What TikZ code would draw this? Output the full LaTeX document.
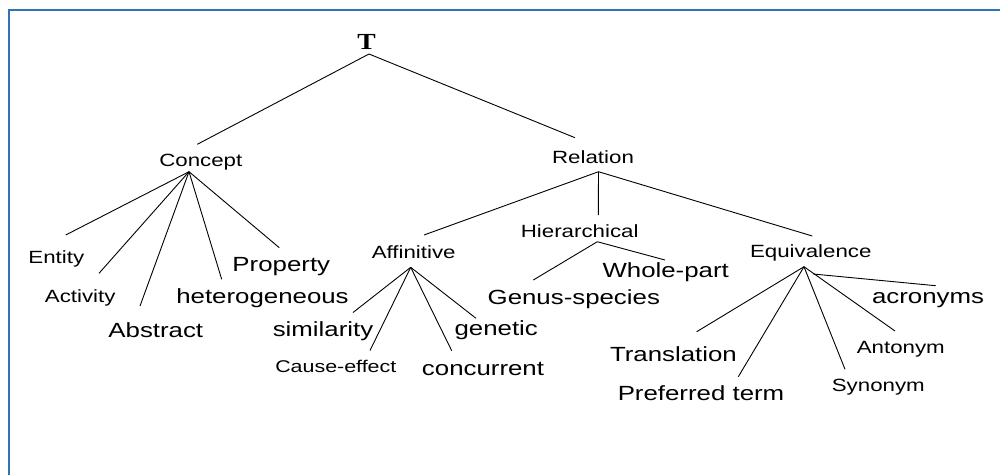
\documentclass[tikz,border=0pt]{standalone}
\usepackage{fontspec}
\setmainfont{Liberation Sans}
\newfontfamily\labfont[FakeStretch=1.26]{Liberation Sans}
\newfontfamily\rootfont[FakeStretch=1.2]{Liberation Serif}
\definecolor{frameblue}{RGB}{46,117,182}
\begin{document}
\begin{tikzpicture}[x=1pt,y=-1pt,
  lab/.style={inner sep=0pt, anchor=base, font=\labfont\fontsize{17.7}{20}\selectfont},
  biglab/.style={inner sep=0pt, anchor=base, font=\labfont\fontsize{20.5}{24}\selectfont},
  rootlab/.style={inner sep=0pt, anchor=base, font=\rootfont\bfseries\fontsize{23}{26}\selectfont},
  edge/.style={line width=0.9pt, black},
  frame/.style={line width=2pt, frameblue}]
\useasboundingbox (0,0) rectangle (1000,475);
\draw[frame] (8.5,475) -- (8.5,9.5) -- (1000,9.5);

% nodes
\node[rootlab] (T) at (366.5,49) {T};
\node[lab] (Concept) at (200.8,166.7) {Concept};
\node[lab] (Relation) at (593,163.3) {Relation};
\node[lab] (Entity) at (56.3,263.3) {Entity};
\node[lab] (Activity) at (80.2,302.3) {Activity};
\node[biglab] (Abstract) at (155.8,337.3) {Abstract};
\node[biglab] (hetero) at (262.5,303.3) {heterogeneous};
\node[biglab] (Property) at (281.3,271.7) {Property};
\node[lab] (Affinitive) at (413.7,258.3) {Affinitive};
\node[lab] (Hierarchical) at (579.7,237.3) {Hierarchical};
\node[lab] (Equivalence) at (810.8,257.3) {Equivalence};
\node[biglab] (similarity) at (323,336.7) {similarity};
\node[lab, font=\labfont\fontsize{17}{20}\selectfont] (Cause) at (335.8,372.3) {Cause-effect};
\node[biglab] (concurrent) at (483,375) {concurrent};
\node[biglab] (genetic) at (496.2,335) {genetic};
\node[biglab] (Genus) at (573.8,304) {Genus-species};
\node[biglab] (Whole) at (665.7,277.7) {Whole-part};
\node[biglab] (acronyms) at (928,303.3) {acronyms};
\node[lab] (Antonym) at (900.8,353.3) {Antonym};
\node[lab] (Synonym) at (878.3,391) {Synonym};
\node[biglab] (Preferred) at (701,400) {Preferred term};
\node[biglab] (Translation) at (673.4,361.7) {Translation};

% hubs and connector ends
\coordinate (T-hub) at (369,54);
\coordinate (Concept-in) at (197.3,144.3);
\coordinate (Relation-in) at (575,137.7);
\coordinate (Concept-hub) at (189,171.7);
\coordinate (Entity-in) at (65.7,235);
\coordinate (Activity-in) at (99,273.3);
\coordinate (Abstract-in) at (140,306);
\coordinate (hetero-in) at (221.7,279.3);
\coordinate (Property-in) at (279.3,247.7);
\coordinate (Relation-hub) at (598.5,171.7);
\coordinate (Affinitive-in) at (424,235);
\coordinate (Hierarchical-in) at (598.3,215);
\coordinate (Equivalence-in) at (812.3,236);
\coordinate (Affinitive-hub) at (410.7,267.3);
\coordinate (similarity-in) at (353,312.5);
\coordinate (Cause-in) at (370,350.5);
\coordinate (concurrent-in) at (451.7,350.7);
\coordinate (genetic-in) at (476,318.3);
\coordinate (Hierarchical-hub) at (597.3,241.7);
\coordinate (Genus-in) at (533.3,280);
\coordinate (Whole-in) at (665,260);
\coordinate (Equivalence-hub) at (804,266.7);
\coordinate (Translation-in) at (696.7,331.7);
\coordinate (Preferred-in) at (738.3,376.7);
\coordinate (Synonym-in) at (845,369.3);
\coordinate (Antonym-in) at (895,331);
\coordinate (acronyms-out) at (813.3,274);
\coordinate (acronyms-in) at (935.7,285.7);

% connectors
\draw[edge] (Concept-in) -- (T-hub) -- (Relation-in);
\foreach \c in {Entity,Activity,Abstract,hetero,Property}
  \draw[edge] (Concept-hub) -- (\c-in);
\foreach \c in {Affinitive,Hierarchical,Equivalence}
  \draw[edge] (Relation-hub) -- (\c-in);
\foreach \c in {similarity,Cause,concurrent,genetic}
  \draw[edge] (Affinitive-hub) -- (\c-in);
\foreach \c in {Genus,Whole}
  \draw[edge] (Hierarchical-hub) -- (\c-in);
\foreach \c in {Translation,Preferred,Synonym,Antonym}
  \draw[edge] (Equivalence-hub) -- (\c-in);
\draw[edge] (acronyms-out) -- (acronyms-in);
\end{tikzpicture}
\end{document}
